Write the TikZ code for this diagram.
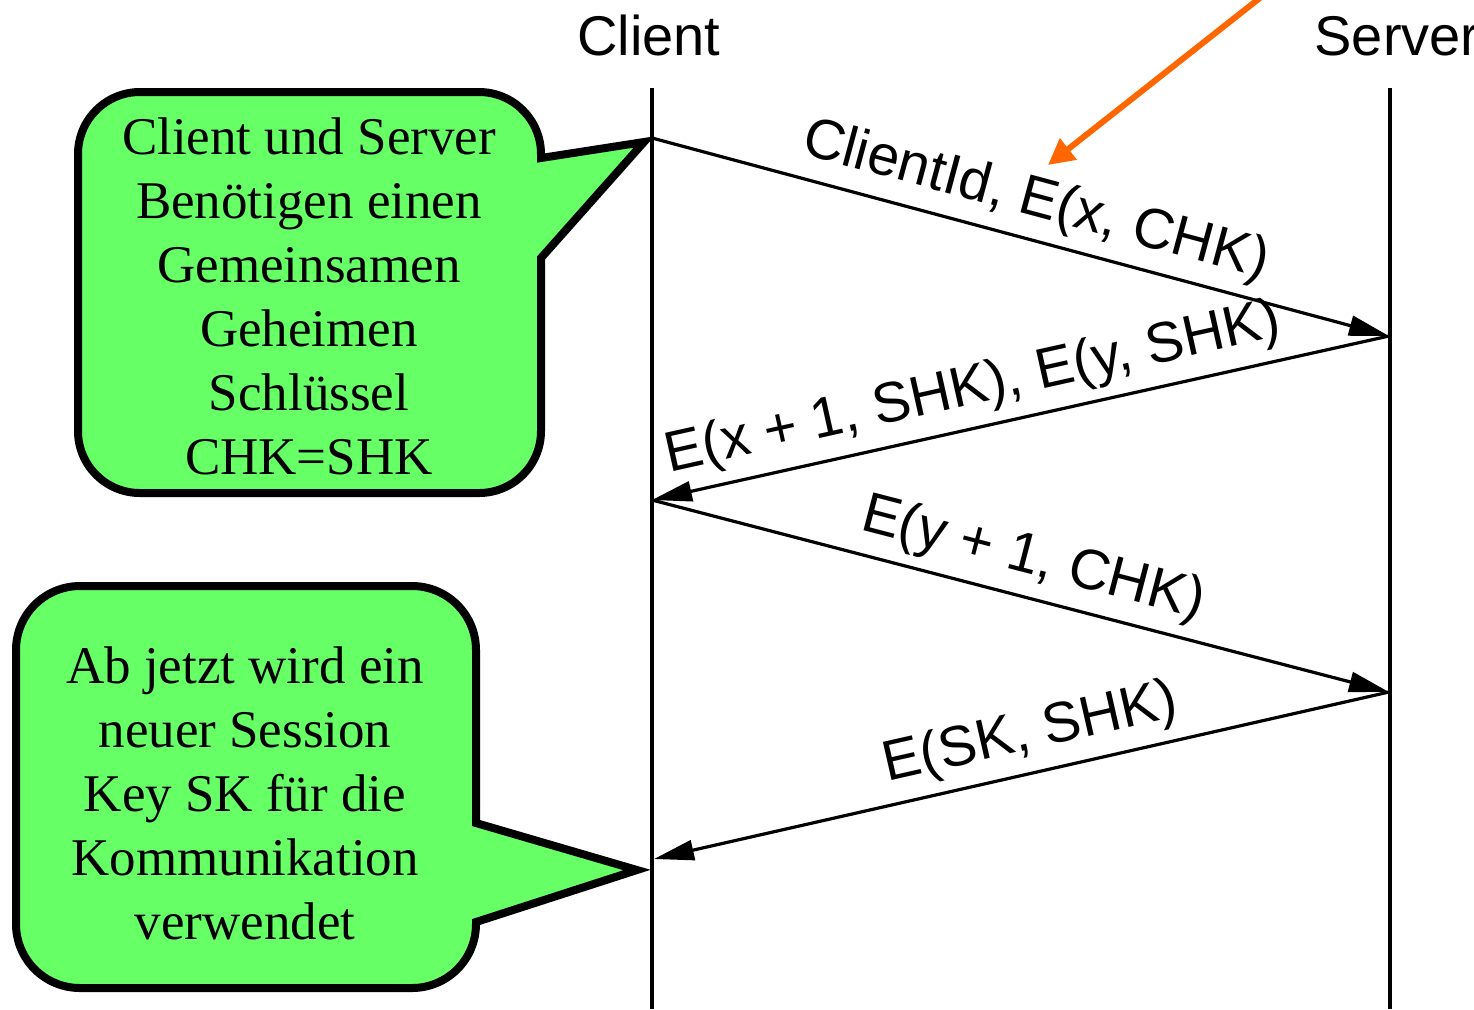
\documentclass[tikz,border=0pt]{standalone}
\usepackage{fontspec}
\setmainfont{Liberation Serif}
\setsansfont{Liberation Sans}
\usetikzlibrary{arrows.meta}
\definecolor{calloutgreen}{HTML}{66FF66}
\definecolor{hintorange}{HTML}{FF6600}
\begin{document}
\begin{tikzpicture}[x=0.5pt,y=-0.5pt,
  lifeline/.style={line width=1.6pt},
  msg/.style={line width=1.6pt,-{Triangle[length=20pt,width=10pt]}},
  msglabel/.style={font=\sffamily\fontsize{28.4}{32}\selectfont, sloped, above, inner sep=5pt},
  header/.style={font=\sffamily\fontsize{28}{32}\selectfont, anchor=base, inner sep=0pt},
  callout/.style={fill=calloutgreen, draw=black, line width=4pt, line join=miter},
  callouttext/.style={font=\fontsize{26.5}{32}\selectfont, align=center, anchor=north, inner sep=0pt},
  hint/.style={draw=hintorange, line width=3pt, -{Triangle[length=13pt,width=13pt]}}]

\useasboundingbox (0,0) rectangle (1474,1009);

% callouts
\path[callout] (644,142) -- (541,258) -- (541,431) arc (0:90:62) -- (140,493)
  arc (90:180:62) -- (78,154) arc (180:270:62) -- (479,92) arc (270:360:62)
  -- (541,158) -- cycle;
\path[callout] (637,870) -- (476,922) -- (476,924) arc (0:90:64) -- (80,988)
  arc (90:180:64) -- (16,650) arc (180:270:64) -- (412,586) arc (270:360:64)
  -- (476,823) -- cycle;

\node[callouttext] (note1) at (309,117) {Client und Server\\Benötigen einen\\Gemeinsamen\\Geheimen\\Schlüssel\\CHK=SHK};
\node[callouttext] (note2) at (245,646) {Ab jetzt wird ein\\neuer Session\\Key SK für die\\Kommunikation\\verwendet};

% headers
\node[header] (clienthead) at (649,55) {Client};
\node[header] (serverhead) at (1397,55) {Server};

% lifelines
\coordinate (ctop) at (652,88);
\coordinate (cbot) at (652,1009);
\coordinate (srvtop) at (1390,88);
\coordinate (srvbot) at (1390,1009);
\draw[lifeline] (ctop) -- (cbot);
\draw[lifeline] (srvtop) -- (srvbot);

% messages
\coordinate (m1a) at (652,138);
\coordinate (m1b) at (1389,336);
\coordinate (m2b) at (652,500);
\coordinate (m3b) at (1389,692);
\coordinate (m4b) at (654,859);
\draw[msg] (m1a) -- node[msglabel,pos=0.507] {ClientId, E(x, CHK)} (m1b);
\draw[msg] (m1b) -- node[msglabel,pos=0.553] {E(x + 1, SHK), E(y, SHK)} (m2b);
\draw[msg] (m2b) -- node[msglabel,pos=0.504] {E(y + 1, CHK)} (m3b);
\draw[msg] (m3b) -- node[msglabel,pos=0.476] {E(SK, SHK)} (m4b);

% orange hint arrow
\coordinate (h1) at (1270,-10);
\coordinate (h2) at (1048,165);
\draw[hint] (h1) -- (h2);
\end{tikzpicture}
\end{document}
